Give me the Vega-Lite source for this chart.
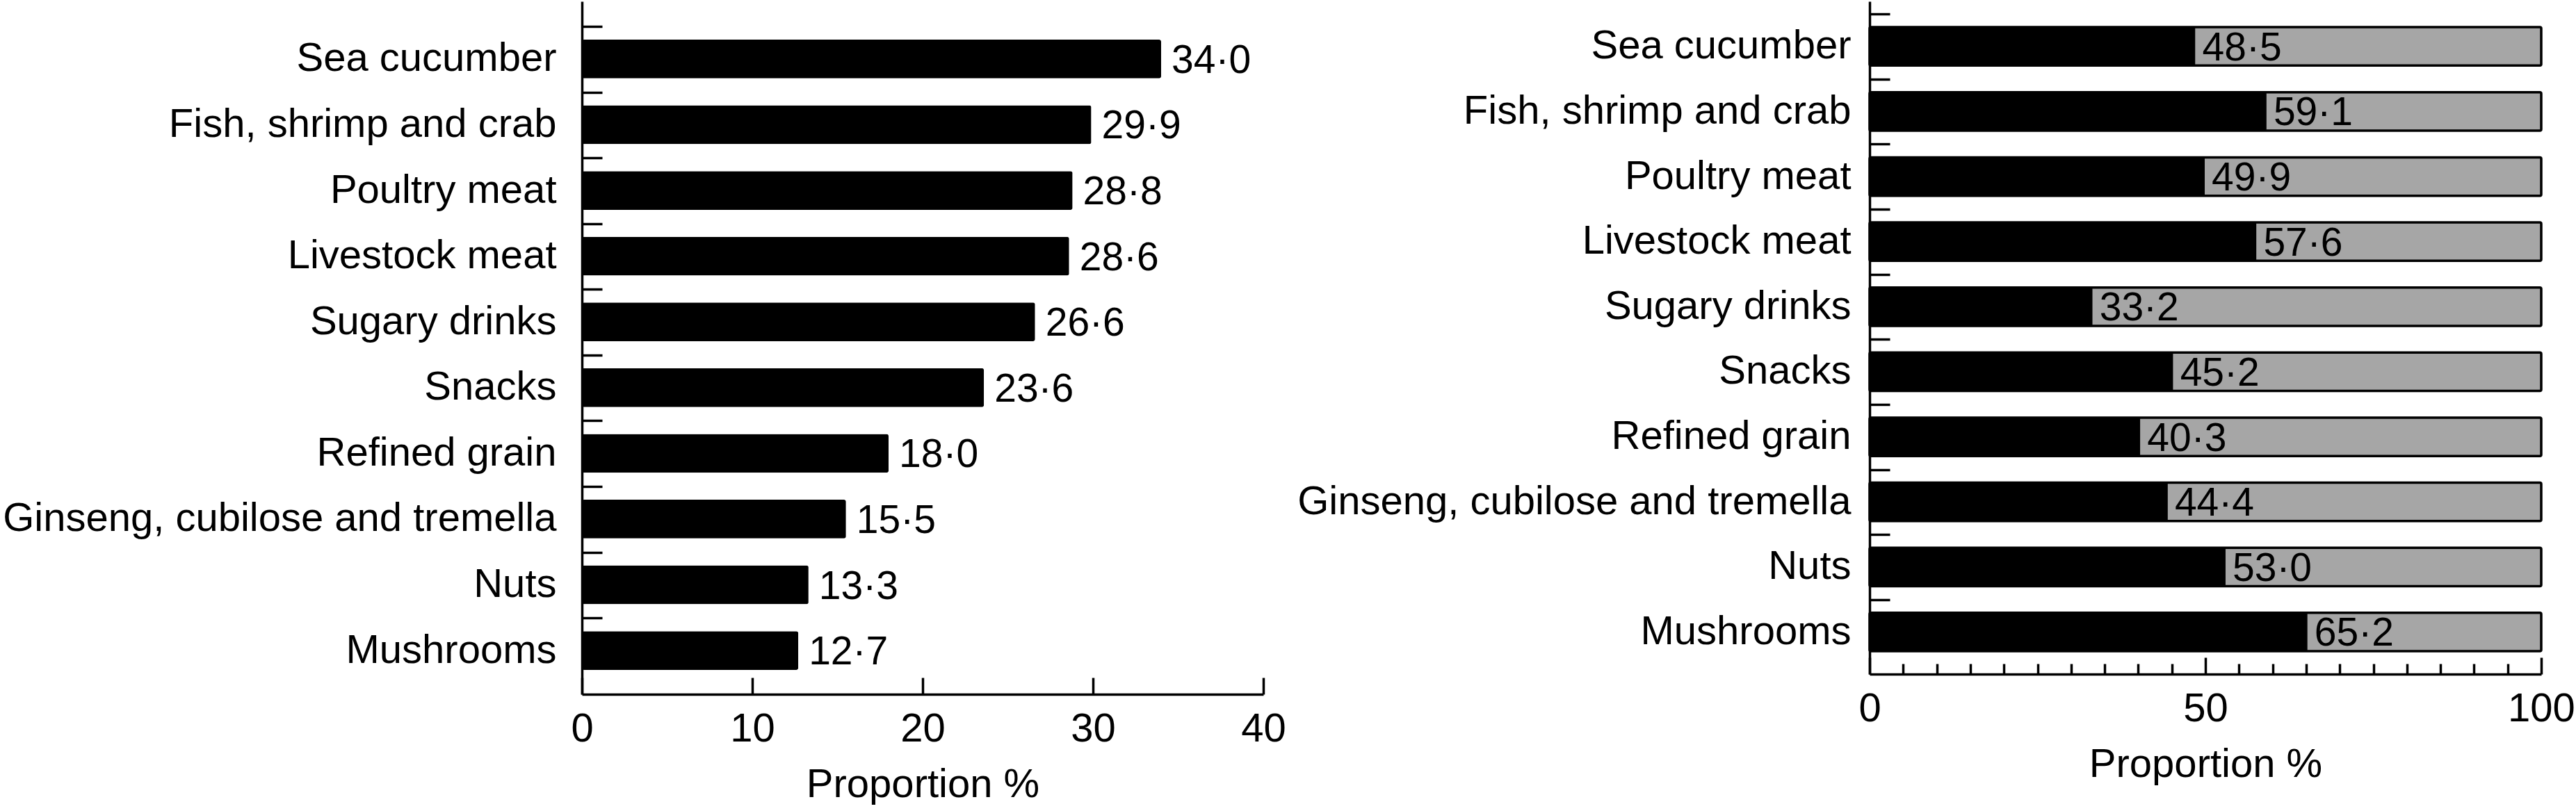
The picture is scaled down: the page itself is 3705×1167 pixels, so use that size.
{
  "$schema": "https://vega.github.io/schema/vega-lite/v6.json",
  "padding": {"left": 3, "top": 2, "right": 0, "bottom": 0},
  "background": "white",
  "config": {
    "view": {"stroke": null},
    "font": "Liberation Sans",
    "locale": {"number": {"decimal": "·", "thousands": ",", "grouping": [3], "currency": ["", ""]}},
    "axis": {"domainColor": "black", "domainWidth": 3.5, "tickColor": "black", "tickWidth": 3.5, "labelColor": "black", "titleColor": "black", "labelFont": "Liberation Sans", "titleFont": "Liberation Sans", "labelFontSize": 58, "titleFontSize": 58, "titleFontWeight": "normal", "grid": false, "labelLimit": 2000, "labelOverlap": false, "labelFlush": false}
  },
  "datasets": {"food": [
    {"food": "Sea cucumber", "p1": 34.0, "p2": 48.5},
    {"food": "Fish, shrimp and crab", "p1": 29.9, "p2": 59.1},
    {"food": "Poultry meat", "p1": 28.8, "p2": 49.9},
    {"food": "Livestock meat", "p1": 28.6, "p2": 57.6},
    {"food": "Sugary drinks", "p1": 26.6, "p2": 33.2},
    {"food": "Snacks", "p1": 23.6, "p2": 45.2},
    {"food": "Refined grain", "p1": 18.0, "p2": 40.3},
    {"food": "Ginseng, cubilose and tremella", "p1": 15.5, "p2": 44.4},
    {"food": "Nuts", "p1": 13.3, "p2": 53.0},
    {"food": "Mushrooms", "p1": 12.7, "p2": 65.2}
  ]},
  "spacing": 15,
  "hconcat": [
    {
      "width": 980,
      "height": 997,
      "data": {"name": "food"},
      "encoding": {
        "y": {"field": "food", "type": "nominal", "sort": null, "scale": {"paddingInner": 0.41, "paddingOuter": 0.476, "align": 0.611}, "axis": {"title": null, "tickSize": -29, "labelPadding": 66, "bandPosition": 0, "tickOffset": -19, "labelOffset": 19}},
        "x": {"field": "p1", "type": "quantitative", "scale": {"domain": [0, 40], "nice": false}, "axis": {"values": [0, 10, 20, 30, 40], "tickSize": -24, "labelPadding": 45, "title": "Proportion %", "titlePadding": 22}}
      },
      "layer": [
        {"mark": {"type": "bar", "color": "black", "cornerRadius": 3}},
        {"mark": {"type": "text", "align": "left", "baseline": "middle", "dx": 15, "dy": 3, "fontSize": 57, "color": "black", "font": "Liberation Sans"}, "encoding": {"text": {"field": "p1", "type": "quantitative", "format": ".1f"}}}
      ]
    },
    {
      "width": 966,
      "height": 968,
      "data": {"name": "food"},
      "layer": [
        {
          "mark": {"type": "bar", "fill": "#a6a6a6", "stroke": "black", "strokeWidth": 3.5, "cornerRadius": 2},
          "encoding": {
            "y": {"field": "food", "type": "nominal", "sort": null, "scale": {"paddingInner": 0.41, "paddingOuter": 0.374, "align": 0.53}, "axis": {"title": null, "tickSize": -29, "labelPadding": 56, "bandPosition": 0, "tickOffset": -19, "labelOffset": 19}},
            "x": {"datum": 0, "type": "quantitative", "scale": {"domain": [0, 100], "nice": false}, "axis": {"values": [5, 10, 15, 20, 25, 30, 35, 40, 45, 55, 60, 65, 70, 75, 80, 85, 90, 95], "tickSize": -15, "labels": false, "domain": false, "title": null, "orient": "bottom"}},
            "x2": {"datum": 100}
          }
        },
        {
          "mark": {"type": "bar", "color": "black", "cornerRadius": 2},
          "encoding": {
            "y": {"field": "food", "type": "nominal", "sort": null},
            "x": {"field": "p2", "type": "quantitative", "axis": {"values": [0, 50, 100], "tickSize": -24, "labelPadding": 45, "title": "Proportion %", "titlePadding": 22, "orient": "bottom"}}
          }
        },
        {
          "mark": {"type": "text", "align": "left", "baseline": "middle", "dx": 10, "dy": 3, "fontSize": 57, "color": "black", "font": "Liberation Sans"},
          "encoding": {
            "y": {"field": "food", "type": "nominal", "sort": null},
            "x": {"field": "p2", "type": "quantitative", "axis": null},
            "text": {"field": "p2", "type": "quantitative", "format": ".1f"}
          }
        }
      ],
      "resolve": {"axis": {"x": "independent"}}
    }
  ]
}
